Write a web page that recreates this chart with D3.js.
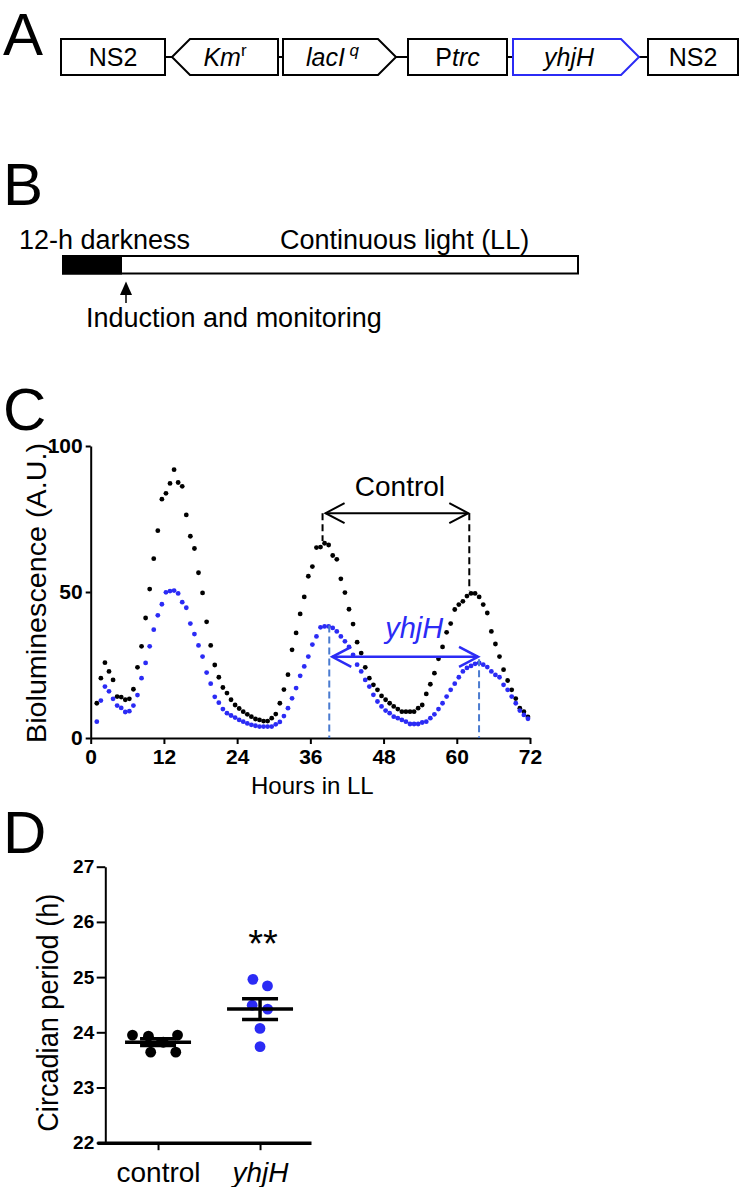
<!DOCTYPE html>
<html>
<head>
<meta charset="utf-8">
<script src="https://cdn.jsdelivr.net/npm/d3@7"></script>
<style>
  body { margin: 0; background: #fff; }
  svg { display: block; }
</style>
</head>
<body>
<div id="fig"></div>
<script>
/* DATA */

// panel C: bioluminescence (A.U.), one reading every 40 min, first one 1 h into LL
var startHour = 1;
var stepHours = 40 / 60;
var controlLum = [
  11.9, 20.5, 25.8, 22.8, 19.9, 14.2, 14.0, 13.1, 13.4, 16.7,
  24.2, 31.4, 41.1, 51.0, 61.4, 71.0, 81.8, 83.8, 87.2, 91.9,
  87.5, 86.2, 76.4, 69.1, 64.9, 56.6, 49.7, 39.8, 31.7, 25.0,
  20.8, 17.3, 15.4, 13.1, 11.3, 10.1, 9.0, 8.1, 7.3, 6.5,
  6.2, 5.8, 5.8, 6.8, 8.2, 11.9, 16.6, 21.7, 30.2, 36.0,
  42.5, 48.3, 55.4, 58.7, 65.2, 65.4, 66.7, 66.1, 62.5, 61.2,
  54.5, 49.8, 44.1, 39.0, 32.8, 29.1, 24.2, 20.5, 18.2, 16.5,
  14.4, 13.1, 11.9, 10.8, 9.9, 9.0, 9.0, 9.0, 9.0, 10.2,
  11.3, 15.1, 18.4, 22.2, 27.1, 31.2, 36.2, 39.2, 44.0, 45.7,
  46.8, 48.6, 49.5, 49.5, 48.3, 45.7, 42.8, 36.5, 32.2, 27.9,
  23.4, 19.7, 16.5, 13.5, 10.2, 9.0, 7.2
];
var yhjHLum = [
  5.6, 12.8, 17.6, 16.0, 13.4, 11.1, 10.3, 8.9, 9.2, 11.1,
  14.7, 20.5, 25.7, 31.4, 37.1, 42.0, 45.8, 49.9, 50.3, 50.5,
  49.5, 46.5, 44.6, 39.2, 35.6, 31.7, 27.9, 22.4, 18.6, 14.1,
  12.1, 9.9, 8.5, 7.7, 7.0, 6.2, 5.6, 5.0, 4.5, 4.2,
  3.9, 3.9, 3.9, 3.9, 4.7, 5.5, 7.5, 10.2, 13.6, 17.1,
  21.3, 24.5, 27.9, 32.0, 34.8, 37.9, 38.2, 38.2, 37.7, 36.5,
  34.8, 33.1, 31.2, 28.5, 25.1, 22.8, 19.9, 17.6, 14.8, 12.5,
  10.8, 9.4, 8.5, 7.3, 6.8, 6.2, 5.6, 4.8, 4.8, 4.8,
  5.3, 5.6, 6.8, 8.1, 9.9, 11.9, 14.2, 16.5, 18.6, 20.8,
  22.8, 24.0, 24.7, 25.4, 25.7, 25.1, 24.3, 22.8, 21.6, 20.8,
  18.2, 16.5, 14.2, 11.9, 9.4, 7.9, 6.6
];
var lumTicksX = [0, 12, 24, 36, 48, 60, 72];
var lumTicksY = [0, 50, 100];

// peak times (h) used for the period arrows, and the arrow heights (A.U.)
var controlPeaks = [38.0, 62.05];
var yhjHPeaks = [39.1, 63.65];
var controlArrowAt = 77;
var yhjHArrowAt = 27.8;

// panel D: circadian period (h) of each culture
var groups = ["control", "yhjH"];
var controlPeriod = [23.82, 23.95, 23.64, 23.95, 23.64, 23.93];
var yhjHPeriod = [24.96, 24.84, 24.42, 24.49, 24.07, 23.74];
var periodTicks = [22, 23, 24, 25, 26, 27];

/* SETUP */
var W = 742, H = 1187;
var font = '"Liberation Sans", Arial, Helvetica, sans-serif';
var blue = "#2b2bf5";
var dashBlue = "#4a7bd0";

var svg = d3.select("#fig").append("svg")
  .attr("width", W)
  .attr("height", H)
  .attr("font-family", font);

svg.append("rect").attr("width", W).attr("height", H).attr("fill", "#fff");

// panel letters
var panelLetters = [["A", 55], ["B", 205], ["C", 430], ["D", 853]];
svg.selectAll(".letter")
  .data(panelLetters)
  .enter().append("text")
  .attr("class", "letter")
  .attr("x", 3)
  .attr("y", function(d) { return d[1]; })
  .attr("font-size", 60)
  .text(function(d) { return d[0]; });

function styleAxis(g, size, weight, lineWidth) {
  g.attr("font-family", font).attr("font-size", size).attr("font-weight", weight);
  g.selectAll("path, line").attr("stroke", "#000").attr("stroke-width", lineWidth);
  g.selectAll("text").attr("fill", "#000");
}

/* PANEL A: construct */
var boxTop = 39, boxBottom = 75, boxMid = 57, tipLen = 18;
var construct = [
  {parts: [{t: "NS2"}], x0: 61, x1: 165, dir: 0, color: "#000"},
  {parts: [{t: "Km", it: true}, {t: "r", sup: true}], x0: 172, x1: 278, dir: -1, color: "#000"},
  {parts: [{t: "lacI", it: true}, {t: "\u00a0q", sup: true, it: true}], x0: 283, x1: 396, dir: 1, color: "#000"},
  {parts: [{t: "P"}, {t: "trc", it: true}], x0: 408, x1: 507, dir: 0, color: "#000"},
  {parts: [{t: "yhjH", it: true}], x0: 513, x1: 639, dir: 1, color: blue},
  {parts: [{t: "NS2"}], x0: 648, x1: 738, dir: 0, color: "#000"}
];

function geneShape(d) {
  var a = d.x0, b = d.x1;
  if (d.dir === 1) {
    return "M" + a + "," + boxTop + "H" + (b - tipLen) + "L" + b + "," + boxMid +
      "L" + (b - tipLen) + "," + boxBottom + "H" + a + "Z";
  }
  if (d.dir === -1) {
    return "M" + b + "," + boxTop + "H" + (a + tipLen) + "L" + a + "," + boxMid +
      "L" + (a + tipLen) + "," + boxBottom + "H" + b + "Z";
  }
  return "M" + a + "," + boxTop + "H" + b + "V" + boxBottom + "H" + a + "Z";
}

// connectors between the elements
for (var i = 0; i < construct.length - 1; i++) {
  svg.append("line")
    .attr("x1", construct[i].x1).attr("x2", construct[i + 1].x0)
    .attr("y1", boxMid).attr("y2", boxMid)
    .attr("stroke", "#000").attr("stroke-width", 2);
}

svg.selectAll(".gene")
  .data(construct)
  .enter().append("path")
  .attr("class", "gene")
  .attr("d", geneShape)
  .attr("fill", "#fff")
  .attr("stroke", function(d) { return d.color; })
  .attr("stroke-width", 2);

construct.forEach(function(d) {
  var cx = (d.x0 + d.x1) / 2 - (d.dir === 1 ? 7 : 0);
  var t = svg.append("text")
    .attr("x", cx).attr("y", boxMid + 8.5)
    .attr("text-anchor", "middle")
    .attr("font-size", 25);
  d.parts.forEach(function(p) {
    var s = t.append("tspan").text(p.t)
      .attr("font-style", p.it ? "italic" : "normal");
    if (p.sup) s.attr("font-size", 17).attr("dy", -10);
  });
});

/* PANEL B: protocol timeline */
var barX0 = 63, barX1 = 578, barTop = 256, barH = 17.5, darkX1 = 121;
svg.append("rect")
  .attr("x", barX0).attr("y", barTop).attr("width", barX1 - barX0).attr("height", barH)
  .attr("fill", "#fff").attr("stroke", "#000").attr("stroke-width", 2);
svg.append("rect")
  .attr("x", barX0).attr("y", barTop).attr("width", darkX1 - barX0).attr("height", barH)
  .attr("fill", "#000").attr("stroke", "#000").attr("stroke-width", 2);

svg.append("text").attr("x", 19).attr("y", 249).attr("font-size", 27).text("12-h darkness");
svg.append("text").attr("x", 280).attr("y", 249).attr("font-size", 27).text("Continuous light (LL)");
svg.append("text").attr("x", 86).attr("y", 327).attr("font-size", 27).text("Induction and monitoring");

var arrowX = 126;
svg.append("line")
  .attr("x1", arrowX).attr("x2", arrowX).attr("y1", 303).attr("y2", 292)
  .attr("stroke", "#000").attr("stroke-width", 1.5);
svg.append("path")
  .attr("d", "M" + arrowX + ",281.5L" + (arrowX + 6) + ",295L" + (arrowX - 6) + ",295Z")
  .attr("fill", "#000");

/* PANEL C: bioluminescence traces */
var xC = d3.scaleLinear().domain([0, 72]).range([90.7, 530]);
var yC = d3.scaleLinear().domain([0, 100]).range([738, 446]);

function hourOf(i) { return startHour + i * stepHours; }

var xAxisC = svg.append("g")
  .attr("transform", "translate(0," + yC(0) + ")")
  .call(d3.axisBottom(xC).tickValues(lumTicksX).tickSize(6).tickSizeOuter(0).tickPadding(5));
styleAxis(xAxisC, 21, "bold", 2);

var yAxisC = svg.append("g")
  .attr("transform", "translate(" + xC(0) + ",0)")
  .call(d3.axisLeft(yC).tickValues(lumTicksY).tickSize(5).tickSizeOuter(0).tickPadding(3));
styleAxis(yAxisC, 21, "bold", 2);

svg.append("text")
  .attr("transform", "translate(46," + ((yC(0) + yC(100)) / 2 + 1) + ") rotate(-90)")
  .attr("text-anchor", "middle")
  .attr("font-size", 27)
  .attr("textLength", 300)
  .attr("lengthAdjust", "spacingAndGlyphs")
  .text("Bioluminescence (A.U.)");

svg.append("text")
  .attr("x", (xC(0) + xC(72)) / 2 + 2)
  .attr("y", 794)
  .attr("text-anchor", "middle")
  .attr("font-size", 24)
  .text("Hours in LL");

svg.selectAll(".dotCtl")
  .data(controlLum)
  .enter().append("circle")
  .attr("class", "dotCtl")
  .attr("cx", function(d, i) { return xC(hourOf(i)); })
  .attr("cy", function(d) { return yC(d); })
  .attr("r", 2.4)
  .attr("fill", "#000");

svg.selectAll(".dotYhjH")
  .data(yhjHLum)
  .enter().append("circle")
  .attr("class", "dotYhjH")
  .attr("cx", function(d, i) { return xC(hourOf(i)); })
  .attr("cy", function(d) { return yC(d); })
  .attr("r", 2.4)
  .attr("fill", blue);

// dashed guides at the peaks
function dashed(x, v0, v1, color) {
  svg.append("line")
    .attr("x1", xC(x)).attr("x2", xC(x))
    .attr("y1", yC(v0)).attr("y2", yC(v1))
    .attr("stroke", color).attr("stroke-width", 2)
    .attr("stroke-dasharray", "7,4");
}
dashed(controlPeaks[0], controlArrowAt, 67.5, "#000");
dashed(controlPeaks[1], controlArrowAt, 50.5, "#000");
dashed(yhjHPeaks[0], 38.5, 0, dashBlue);
dashed(yhjHPeaks[1], 27, 0, dashBlue);

// double headed period arrows
function periodArrow(peaks, level, color, width) {
  var xa = xC(peaks[0]) + 3, xb = xC(peaks[1]) - 1, y = yC(level);
  var g = svg.append("g")
    .attr("fill", "none").attr("stroke", color).attr("stroke-width", width);
  g.append("line").attr("x1", xa).attr("x2", xb).attr("y1", y).attr("y2", y);
  g.append("path").attr("d", "M" + (xa + 19) + "," + (y - 10) + "L" + xa + "," + y + "L" + (xa + 19) + "," + (y + 10));
  g.append("path").attr("d", "M" + (xb - 19) + "," + (y - 10) + "L" + xb + "," + y + "L" + (xb - 19) + "," + (y + 10));
  return (xa + xb) / 2;
}
var ctlMid = periodArrow(controlPeaks, controlArrowAt, "#000", 2);
var yhjHMid = periodArrow(yhjHPeaks, yhjHArrowAt, blue, 2.5);

svg.append("text")
  .attr("x", ctlMid + 3).attr("y", yC(controlArrowAt) - 17)
  .attr("text-anchor", "middle")
  .attr("font-size", 28)
  .text("Control");

svg.append("text")
  .attr("x", yhjHMid + 9).attr("y", yC(yhjHArrowAt) - 19)
  .attr("text-anchor", "middle")
  .attr("font-size", 29)
  .attr("font-style", "italic")
  .attr("fill", blue)
  .text("yhjH");

/* PANEL D: circadian period */
var yD = d3.scaleLinear().domain([22, 27]).range([1142.7, 866.7]);
var xD = d3.scalePoint().domain(groups).range([97, 311]).padding(0.549).align(0.545);

var yAxisD = svg.append("g")
  .attr("transform", "translate(105.3,0)")
  .call(d3.axisLeft(yD).tickValues(periodTicks).tickFormat(d3.format("d"))
    .tickSize(8.6).tickSizeOuter(0).tickPadding(2.5));
styleAxis(yAxisD, 19, "bold", 2);

var xAxisD = svg.append("g")
  .attr("transform", "translate(0," + yD(22) + ")")
  .call(d3.axisBottom(xD).tickSize(7.5).tickSizeOuter(0).tickPadding(12));
styleAxis(xAxisD, 28, "normal", 2);
xAxisD.select(".domain").attr("stroke-width", 3.5);
xAxisD.selectAll(".tick text")
  .attr("font-style", function(d) { return d === "yhjH" ? "italic" : "normal"; });

svg.append("text")
  .attr("transform", "translate(58," + ((yD(22) + yD(27)) / 2 + 8) + ") rotate(-90)")
  .attr("text-anchor", "middle")
  .attr("font-size", 30)
  .attr("textLength", 238)
  .attr("lengthAdjust", "spacingAndGlyphs")
  .text("Circadian period (h)");

// scatter with dots pushed sideways where they would overlap
function swarm(values, cx) {
  var nodes = values.map(function(v) { return {v: v, x: cx, fy: yD(v)}; });
  var sim = d3.forceSimulation(nodes)
    .force("x", d3.forceX(cx).strength(0.04))
    .force("collide", d3.forceCollide(8).iterations(4))
    .stop();
  for (var k = 0; k < 400; k++) sim.tick();
  return nodes;
}

var periodSets = [
  {name: "control", values: controlPeriod, color: "#000"},
  {name: "yhjH", values: yhjHPeriod, color: blue}
];

periodSets.forEach(function(s) {
  var cx = xD(s.name);
  var nodes = swarm(s.values, cx);
  svg.selectAll(".pt-" + s.name)
    .data(nodes)
    .enter().append("circle")
    .attr("cx", function(d) { return d.x; })
    .attr("cy", function(d) { return d.fy; })
    .attr("r", 5.4)
    .attr("fill", s.color);

  var mean = d3.mean(s.values);
  var sem = d3.deviation(s.values) / Math.sqrt(s.values.length);
  var g = svg.append("g").attr("stroke", "#000").attr("stroke-width", 3.5);
  g.append("line").attr("x1", cx - 33).attr("x2", cx + 33).attr("y1", yD(mean)).attr("y2", yD(mean));
  g.append("line").attr("x1", cx).attr("x2", cx).attr("y1", yD(mean - sem)).attr("y2", yD(mean + sem));
  g.append("line").attr("x1", cx - 18).attr("x2", cx + 18).attr("y1", yD(mean + sem)).attr("y2", yD(mean + sem));
  g.append("line").attr("x1", cx - 18).attr("x2", cx + 18).attr("y1", yD(mean - sem)).attr("y2", yD(mean - sem));
});

svg.append("text")
  .attr("x", xD("yhjH") + 3)
  .attr("y", 957)
  .attr("text-anchor", "middle")
  .attr("font-size", 38)
  .text("**");
</script>
</body>
</html>
